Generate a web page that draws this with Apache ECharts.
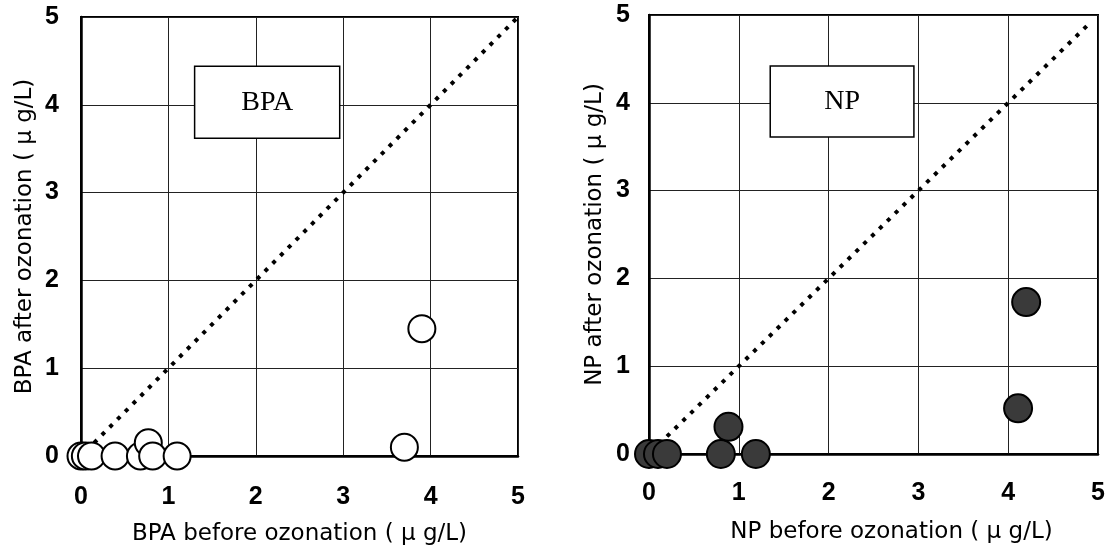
<!DOCTYPE html>
<html>
<head>
<meta charset="utf-8">
<script src="https://cdn.jsdelivr.net/npm/echarts@6/dist/echarts.min.js"></script>
<style>
  html, body { margin: 0; padding: 0; background: #fff; }
  #chart { width: 1116px; height: 551px; }
</style>
</head>
<body>
<div id="chart"></div>
<script>
// ---- data ----
var ticks = [0, 1, 2, 3, 4, 5];
var bpaPoints = [[0, 0], [0.05, 0], [0.12, 0], [0.39, 0], [0.68, 0], [0.77, 0.15], [0.82, 0], [1.1, 0], [3.7, 0.1], [3.9, 1.45]];
var npPoints = [[0, 0], [0.1, 0], [0.2, 0], [0.8, 0], [0.885, 0.31], [1.19, 0], [4.11, 0.52], [4.2, 1.73]];
var bpaDiagonal = [[0.15, 0.15], [5, 5]];
var npDiagonal = [[0.2, 0.2], [4.9, 4.9]];
var bpaBox = { label: 'BPA', x: [1.3, 2.96], y: [3.62, 4.44] };
var npBox = { label: 'NP', x: [1.35, 2.95], y: [3.61, 4.42] };
var bpaXName = 'BPA before ozonation ( \u03bc g/L)';
var bpaYName = 'BPA after ozonation ( \u03bc g/L)';
var npXName = 'NP before ozonation ( \u03bc g/L)';
var npYName = 'NP after ozonation ( \u03bc g/L)';

var tickFont = { fontFamily: 'Liberation Sans Narrow, Liberation Sans, Arial, sans-serif', fontWeight: 'bold', fontSize: 25, color: '#000' };
var nameFont = { fontFamily: 'DejaVu Sans, Noto Sans, sans-serif', fontSize: 23, color: '#000' };

function xAxis(gridIndex, name, labelMargin, nameGap, padding) {
  return {
    type: 'value', gridIndex: gridIndex, min: 0, max: 5, interval: 1,
    name: name, nameLocation: 'middle', nameGap: nameGap,
    nameTextStyle: Object.assign({ padding: padding }, nameFont),
    axisLine: { show: true, onZero: false, lineStyle: { color: '#000', width: 2.5 } },
    axisTick: { show: false },
    axisLabel: Object.assign({ margin: labelMargin, formatter: function (v) { return ticks.indexOf(v) >= 0 ? String(v) : ''; } }, tickFont),
    splitLine: { show: true, lineStyle: { color: '#222', width: 1 } }
  };
}
function yAxis(gridIndex, name, labelMargin, nameGap) {
  return {
    type: 'value', gridIndex: gridIndex, min: 0, max: 5, interval: 1,
    name: name, nameLocation: 'middle', nameGap: nameGap,
    nameTextStyle: nameFont,
    axisLine: { show: true, onZero: false, lineStyle: { color: '#000', width: 2.5 } },
    axisTick: { show: false },
    axisLabel: Object.assign({ margin: labelMargin, formatter: function (v) { return ticks.indexOf(v) >= 0 ? String(v) : ''; } }, tickFont),
    splitLine: { show: true, lineStyle: { color: '#222', width: 1 } }
  };
}
function diag(idx, data, box) {
  return {
    type: 'line', xAxisIndex: idx, yAxisIndex: idx, data: data,
    symbol: 'none', silent: true, z: 2,
    lineStyle: { color: '#000', width: 4, type: [4, 7] },
    markArea: {
      silent: true,
      itemStyle: { color: '#fff', borderColor: '#000', borderWidth: 1.5 },
      label: { show: true, position: 'inside', color: '#000', fontFamily: 'Liberation Serif, Times New Roman, serif', fontSize: 28 },
      data: [[{ name: box.label, coord: [box.x[0], box.y[1]] }, { coord: [box.x[1], box.y[0]] }]]
    }
  };
}

var chart = echarts.init(document.getElementById('chart'), null, { renderer: 'canvas' });
chart.setOption({
  backgroundColor: '#fff',
  animation: false,
  grid: [
    { left: 81, top: 17, width: 437, height: 439, show: true, borderColor: '#000', borderWidth: 2, backgroundColor: 'transparent' },
    { left: 649, top: 15, width: 449, height: 439, show: true, borderColor: '#000', borderWidth: 2, backgroundColor: 'transparent' }
  ],
  xAxis: [xAxis(0, bpaXName, 29, 67, [0, 0, 0, 0]), xAxis(1, npXName, 27, 67, [0, 0, 0, 36])],
  yAxis: [yAxis(0, bpaYName, 22, 44), yAxis(1, npYName, 19, 42)],
  series: [
    diag(0, bpaDiagonal, bpaBox),
    diag(1, npDiagonal, npBox),
    {
      type: 'scatter', xAxisIndex: 0, yAxisIndex: 0, data: bpaPoints, symbolSize: 27, z: 3,
      itemStyle: { color: '#fff', borderColor: '#000', borderWidth: 2, opacity: 1 }
    },
    {
      type: 'scatter', xAxisIndex: 1, yAxisIndex: 1, data: npPoints, symbolSize: 28, z: 3,
      itemStyle: { color: '#3a3a3a', borderColor: '#000', borderWidth: 2, opacity: 1 }
    }
  ]
});
</script>
</body>
</html>
